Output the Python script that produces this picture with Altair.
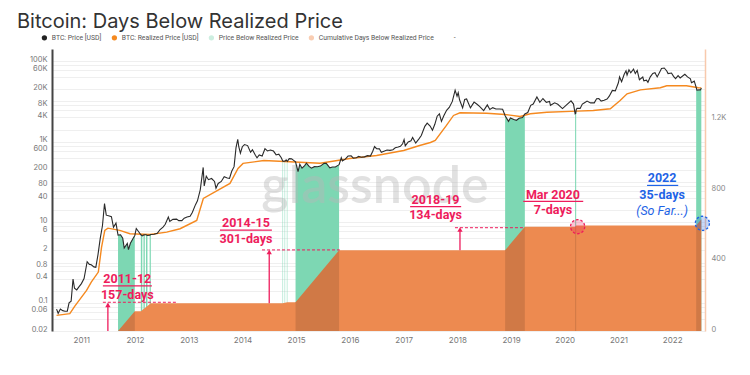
import json
import altair as alt
import pandas as pd

TITLE = "Bitcoin: Days Below Realized Price"

# ---------------- data ----------------
price_dates = [
    "2010-07-17", "2010-07-28", "2010-08-12", "2010-08-28", "2010-09-12", "2010-09-28",
    "2010-10-10", "2010-10-24", "2010-11-06", "2010-11-16", "2010-12-01", "2010-12-16",
    "2011-01-02", "2011-01-20", "2011-02-10", "2011-02-25", "2011-03-10", "2011-03-28",
    "2011-04-10", "2011-04-25", "2011-05-10", "2011-05-25", "2011-06-08", "2011-06-20",
    "2011-07-05", "2011-07-25", "2011-08-08", "2011-08-25", "2011-09-08", "2011-09-25",
    "2011-10-10", "2011-10-20", "2011-11-10", "2011-11-18", "2011-12-01", "2011-12-20",
    "2011-12-31", "2012-01-10", "2012-01-25", "2012-02-10", "2012-02-20", "2012-02-28",
    "2012-03-08", "2012-03-16", "2012-03-26", "2012-04-10", "2012-04-18", "2012-05-10",
    "2012-06-01", "2012-06-20", "2012-07-10", "2012-07-25", "2012-08-15", "2012-08-25",
    "2012-09-15", "2012-10-10", "2012-10-25", "2012-11-15", "2012-12-01", "2012-12-20",
    "2013-01-10", "2013-01-25", "2013-02-15", "2013-03-01", "2013-03-20", "2013-04-09",
    "2013-04-16", "2013-04-30", "2013-05-15", "2013-06-05", "2013-06-25", "2013-07-05",
    "2013-07-20", "2013-08-10", "2013-08-30", "2013-09-20", "2013-10-05", "2013-10-20",
    "2013-11-05", "2013-11-18", "2013-11-30", "2013-12-07", "2013-12-18", "2013-12-31",
    "2014-01-15", "2014-02-05", "2014-02-25", "2014-03-10", "2014-03-30", "2014-04-10",
    "2014-04-25", "2014-05-15", "2014-06-03", "2014-06-20", "2014-07-10", "2014-07-31",
    "2014-08-18", "2014-09-05", "2014-09-22", "2014-10-01", "2014-10-04", "2014-10-15",
    "2014-10-18", "2014-10-25", "2014-10-30", "2014-11-02", "2014-11-15", "2014-12-01",
    "2014-12-15", "2014-12-28", "2015-01-14", "2015-01-26", "2015-02-10", "2015-02-28",
    "2015-03-12", "2015-03-30", "2015-04-15", "2015-05-05", "2015-05-25", "2015-06-15",
    "2015-07-10", "2015-07-25", "2015-08-18", "2015-09-05", "2015-09-25", "2015-10-15",
    "2015-10-20", "2015-11-04", "2015-11-12", "2015-12-01", "2015-12-20", "2016-01-10",
    "2016-01-25", "2016-02-15", "2016-03-01", "2016-03-20", "2016-04-10", "2016-04-30",
    "2016-05-20", "2016-06-05", "2016-06-17", "2016-07-01", "2016-07-20", "2016-08-02",
    "2016-08-20", "2016-09-10", "2016-09-30", "2016-10-20", "2016-11-05", "2016-11-25",
    "2016-12-10", "2016-12-25", "2017-01-04", "2017-01-12", "2017-02-01", "2017-02-20",
    "2017-03-03", "2017-03-24", "2017-04-15", "2017-05-01", "2017-05-25", "2017-06-10",
    "2017-06-30", "2017-07-16", "2017-08-01", "2017-08-17", "2017-09-01", "2017-09-15",
    "2017-10-01", "2017-10-20", "2017-11-07", "2017-11-28", "2017-12-17", "2017-12-30",
    "2018-01-07", "2018-01-16", "2018-02-06", "2018-02-20", "2018-03-05", "2018-03-31",
    "2018-04-25", "2018-05-15", "2018-06-01", "2018-06-29", "2018-07-24", "2018-08-10",
    "2018-08-30", "2018-09-20", "2018-10-15", "2018-11-05", "2018-11-22", "2018-12-15",
    "2018-12-28", "2019-01-20", "2019-02-07", "2019-02-25", "2019-03-20", "2019-04-05",
    "2019-04-25", "2019-05-15", "2019-06-01", "2019-06-26", "2019-07-16", "2019-08-06",
    "2019-08-29", "2019-09-20", "2019-09-26", "2019-10-25", "2019-11-15", "2019-12-17",
    "2020-01-10", "2020-02-13", "2020-03-01", "2020-03-12", "2020-03-16", "2020-03-19",
    "2020-03-25", "2020-04-15", "2020-04-30", "2020-05-15", "2020-06-01", "2020-06-25",
    "2020-07-20", "2020-08-05", "2020-08-20", "2020-09-05", "2020-09-25", "2020-10-15",
    "2020-10-30", "2020-11-20", "2020-12-10", "2020-12-31", "2021-01-08", "2021-01-22",
    "2021-02-08", "2021-02-21", "2021-02-28", "2021-03-13", "2021-03-25", "2021-04-13",
    "2021-04-25", "2021-05-08", "2021-05-23", "2021-06-15", "2021-06-22", "2021-07-10",
    "2021-07-20", "2021-08-05", "2021-08-22", "2021-09-06", "2021-09-21", "2021-10-10",
    "2021-10-20", "2021-11-08", "2021-11-25", "2021-12-04", "2021-12-27", "2022-01-10",
    "2022-01-24", "2022-02-10", "2022-02-24", "2022-03-28", "2022-04-15", "2022-05-05",
    "2022-05-12", "2022-05-31", "2022-06-13", "2022-06-18", "2022-07-01", "2022-07-12",
    "2022-07-18",
]
price_usd = [
    0.07, 0.055, 0.07, 0.064, 0.062, 0.062,
    0.10, 0.11, 0.39, 0.23, 0.21, 0.25,
    0.30, 0.40, 1.05, 0.90, 0.88, 0.78,
    0.76, 1.6, 4.0, 8.2, 29.0, 15.0,
    14.5, 13.8, 7.5, 9.5, 4.8, 4.9,
    4.0, 2.3, 3.0, 2.1, 3.0, 4.0,
    4.7, 7.0, 5.9, 4.9, 4.6, 4.8,
    4.9, 4.9, 4.7, 4.8, 4.95, 5.05,
    5.3, 6.6, 7.6, 8.9, 13.5, 10.5,
    11.8, 12.0, 11.0, 11.0, 12.6, 13.5,
    14.0, 17.5, 27, 34, 64, 230,
    80, 139, 114, 122, 103, 70,
    92, 103, 135, 126, 123, 185,
    240, 700, 1150, 750, 520, 750,
    850, 800, 550, 630, 460, 400,
    470, 440, 670, 590, 620, 585,
    470, 490, 400, 335, 325, 332,
    330, 355, 335, 325, 380, 375,
    345, 315, 180, 275, 220, 254,
    295, 245, 220, 240, 238, 248,
    290, 290, 225, 235, 235, 262,
    270, 400, 335, 370, 440, 445,
    390, 400, 432, 410, 420, 450,
    440, 580, 760, 670, 665, 545,
    580, 620, 608, 630, 705, 735,
    770, 890, 1130, 790, 990, 1050,
    1270, 930, 1180, 1420, 2400, 2900,
    2450, 1920, 2700, 4300, 4900, 3200,
    4400, 6000, 7100, 10000, 19000, 13500,
    16500, 11000, 6900, 11200, 11500, 6900,
    9600, 8500, 7500, 5900, 8200, 6300,
    7000, 6500, 6500, 6400, 4400, 3200,
    3900, 3550, 3400, 3800, 4000, 4900,
    5300, 8000, 8600, 12900, 9500, 11800,
    9500, 10000, 8000, 9200, 8500, 6650,
    8000, 10300, 8600, 4900, 5000, 6200,
    6700, 6700, 8600, 9300, 10200, 9200,
    9200, 11700, 11800, 10200, 10700, 11500,
    13500, 18700, 18300, 29000, 40500, 30800,
    46500, 57500, 45200, 61200, 51500, 63500,
    49000, 58800, 34600, 40300, 32500, 33800,
    29800, 40800, 49300, 51700, 40600, 54900,
    65900, 67500, 57100, 49000, 50600, 41800,
    36600, 43500, 38300, 47200, 40500, 36500,
    29000, 31800, 22400, 19000, 19300, 19300,
    21500,
]

realized_dates = [
    "2010-07-17", "2010-10-15", "2010-11-17", "2011-02-06", "2011-03-10", "2011-04-27",
    "2011-05-19", "2011-06-10", "2011-07-01", "2011-09-20", "2011-11-28", "2012-04-12",
    "2012-08-04", "2012-11-03", "2013-02-24", "2013-04-10", "2013-10-08", "2013-12-02",
    "2014-01-05", "2014-05-27", "2015-06-13", "2016-01-01", "2016-07-01", "2017-01-01",
    "2017-04-20", "2017-07-02", "2017-08-04", "2017-10-19", "2017-12-06", "2018-01-19",
    "2018-07-20", "2018-11-21", "2019-03-04", "2019-05-12", "2019-09-02", "2020-03-25",
    "2020-07-13", "2020-11-06", "2021-01-12", "2021-02-28", "2021-05-30", "2021-10-12",
    "2021-11-25", "2022-04-08", "2022-06-28", "2022-07-18",
]
realized_usd = [
    0.049, 0.054, 0.082, 0.203, 0.327, 0.58,
    2.41, 6.27, 7.15, 6.27, 5.19, 4.99,
    5.69, 6.91, 11.1, 39, 92, 217,
    289, 342, 293, 384, 455, 606,
    806, 957, 1073, 2530, 4480, 5220,
    5100, 4740, 4230, 4930, 5400, 5730,
    5960, 6560, 10500, 15400, 19400, 21800,
    24400, 24400, 21800, 21700,
]

below_start = ["2011-09-08", "2012-02-10", "2012-02-28", "2012-03-16", "2012-04-10",
               "2014-10-01", "2014-10-15", "2014-10-30", "2014-12-28", "2018-11-22",
               "2020-03-12", "2022-06-13"]
below_end = ["2011-12-31", "2012-02-20", "2012-03-08", "2012-03-26", "2012-04-18",
             "2014-10-04", "2014-10-18", "2014-11-02", "2015-10-20", "2019-04-05",
             "2020-03-19", "2022-07-18"]

cum_dates = ["2011-09-08", "2011-12-31", "2012-02-10", "2012-04-18", "2014-10-01",
             "2014-11-02", "2014-12-28", "2015-10-20", "2018-11-22", "2019-04-05",
             "2020-03-12", "2020-03-19", "2022-06-13", "2022-07-18"]
cum_days = [0, 112, 112, 157, 157, 163, 163, 458, 458, 592, 592, 599, 599, 634]

left_grid_ticks = [0.02, 0.04, 0.06, 0.08, 0.1, 0.2, 0.4, 0.6, 0.8, 1, 2, 4, 6, 8, 10, 20, 40,
                   60, 80, 100, 200, 400, 600, 800, 1000, 2000, 4000, 6000, 8000, 10000,
                   20000, 40000, 60000, 80000, 100000]
left_tick_labels = [0.02, 0.06, 0.1, 0.4, 0.8, 2, 6, 10, 40, 80, 200, 600, 1000, 4000,
                    8000, 20000, 60000, 100000]
right_ticks = [0, 400, 800, 1200]

legend_names = ["BTC: Price [USD]", "BTC: Realized Price [USD]", "Price Below Realized Price",
                "Cumulative Days Below Realized Price", "-"]
legend_colors = ["#222222", "#f5891f", "#cdeee0", "#f9cdb2", "#ffffff"]

# annotations (anchored in date / cumulative-days space)
ann_text = ["2011-12", "157-days", "2014-15", "301-days", "2018-19", "134-days",
            "Mar 2020", "7-days", "2022", "35-days"]
ann_dates = ["2011-11-10", "2011-11-10", "2014-01-25", "2014-01-25", "2017-08-06",
             "2017-08-06", "2019-10-13", "2019-10-13", "2021-10-24", "2021-10-24"]
ann_values = [297, 204, 615, 524, 745, 660, 774, 688, 870, 772]
ann_colors = ["#ee1c5c"] * 8 + ["#1e63e6"] * 2

note_text = ["(So Far...)"]
note_dates = ["2021-10-24"]
note_values = [680]
note_colors = ["#1e63e6"]

und_start = ["2011-05-28", "2013-08-01", "2017-02-14", "2019-03-25", "2021-07-14"]
und_end = ["2012-04-25", "2014-07-20", "2018-01-27", "2020-05-06", "2022-02-11"]
und_values = [256, 572, 706, 735, 826]
und_colors = ["#ee1c5c"] * 4 + ["#1e63e6"]

dash_start = ["2011-05-28", "2014-05-14", "2017-12-16"]
dash_end = ["2012-10-19", "2015-10-25", "2019-04-06"]
dash_values = [163, 460, 586]

arrow_dates = ["2011-07-01", "2014-07-02", "2018-01-19"]
arrow_base = [0, 157, 458]
arrow_tip = [148, 448, 576]

circ_dates = ["2020-03-29", "2022-07-25"]
circ_values = [592, 611]
circ_colors = ["#ee1c5c", "#1e63e6"]

wm_text = ["glassnode"]
wm_dates = ["2016-06-20"]
wm_values = [815]

# ---------------- frames ----------------
price_df = pd.DataFrame({"date": pd.to_datetime(price_dates), "price": price_usd})
real_df = pd.DataFrame({"date": pd.to_datetime(realized_dates), "price": realized_usd})
cum_df = pd.DataFrame({"date": pd.to_datetime(cum_dates), "days": cum_days})

green_parts, dark_parts = [], []
for i, (s, e) in enumerate(zip(below_start, below_end)):
    s, e = pd.Timestamp(s), pd.Timestamp(e)
    green_parts.append(price_df[(price_df.date >= s) & (price_df.date <= e)].assign(seg=i))
    dark_parts.append(cum_df[(cum_df.date >= s) & (cum_df.date <= e)].assign(seg=i))
green_df = pd.concat(green_parts)
dark_df = pd.concat(dark_parts)

ann_df = pd.DataFrame({"date": pd.to_datetime(ann_dates), "value": ann_values,
                       "text": ann_text, "color": ann_colors})
note_df = pd.DataFrame({"date": pd.to_datetime(note_dates), "value": note_values,
                        "text": note_text, "color": note_colors})
und_df = pd.DataFrame({"start": pd.to_datetime(und_start), "end": pd.to_datetime(und_end),
                       "value": und_values, "color": und_colors})
dash_df = pd.DataFrame({"start": pd.to_datetime(dash_start), "end": pd.to_datetime(dash_end),
                        "value": dash_values})
arrow_df = pd.DataFrame({"date": pd.to_datetime(arrow_dates), "base": arrow_base,
                         "tip": arrow_tip})
circ_df = pd.DataFrame({"date": pd.to_datetime(circ_dates), "value": circ_values,
                        "color": circ_colors})
wm_df = pd.DataFrame({"date": pd.to_datetime(wm_dates), "value": wm_values, "text": wm_text})
legend_df = pd.DataFrame({"series": legend_names})

# ---------------- scales & axes ----------------
x_scale = alt.Scale(domain=[alt.DateTime(year=2010, month=6, date=16),
                            alt.DateTime(year=2022, month=8, date=12)])
x_axis = alt.Axis(format="%Y", tickCount={"interval": "year", "step": 1}, grid=False,
                  domain=False, ticks=False, labelFontSize=8, labelColor="#777777",
                  labelPadding=5, title=None, labelFlush=False)
price_scale = alt.Scale(type="log", domain=[0.02, 200000])
cum_scale = alt.Scale(domain=[0, 1600])

label_expr = ("indexof(" + json.dumps(left_tick_labels) + ", datum.value) >= 0 ? "
              "(datum.value >= 1000 ? (datum.value / 1000) + 'K' : '' + datum.value) : ''")
left_axis = alt.Axis(values=left_grid_ticks, labelExpr=label_expr, grid=True,
                     gridColor="#efefef", gridWidth=1, domainColor="#444444", domainWidth=2,
                     ticks=False, labelFontSize=7.5, labelColor="#777777", labelPadding=5,
                     labelBaseline="alphabetic", labelOverlap=False, title=None)
right_axis = alt.Axis(orient="right", values=right_ticks,
                      labelExpr="datum.value >= 1000 ? (datum.value / 1000) + 'K' : '' + datum.value",
                      grid=False, domainColor="#f8c9ad", domainWidth=1.5, ticks=False,
                      labelFontSize=7.5, labelColor="#888888", labelPadding=6,
                      labelBaseline="alphabetic", title=None)


def X(field="date"):
    return alt.X(f"{field}:T", scale=x_scale, axis=x_axis, title=None)


# ---------------- layers ----------------
green = alt.Chart(green_df).mark_area(color="#7dd7b3", opacity=1).encode(
    x=X(), y=alt.Y("price:Q", scale=price_scale, axis=None, stack=None),
    y2=alt.datum(0.02), detail="seg:N")

cum_area = alt.Chart(cum_df).mark_area(color="#ed8a50", opacity=1).encode(
    x=X(), y=alt.Y("days:Q", scale=cum_scale, axis=right_axis, stack=None))

dark = alt.Chart(dark_df).mark_area(color="#000000", opacity=0.12).encode(
    x=X(), y=alt.Y("days:Q", scale=cum_scale, axis=None, stack=None), detail="seg:N")

watermark = alt.Chart(wm_df).mark_text(font="Lato", fontSize=52, fontWeight=600,
                                       color="#b8b8b8", opacity=0.42).encode(
    x=X(), y=alt.Y("value:Q", scale=cum_scale, axis=None), text="text:N")

realized_line = alt.Chart(real_df).mark_line(color="#f5891f", strokeWidth=1.4).encode(
    x=X(), y=alt.Y("price:Q", scale=price_scale, axis=None))

price_line = alt.Chart(price_df).mark_line(color="#2a2a2a", strokeWidth=1.1).encode(
    x=X(), y=alt.Y("price:Q", scale=price_scale, axis=left_axis))

dashes = alt.Chart(dash_df).mark_rule(color="#ee1c5c", strokeWidth=1, strokeDash=[3, 2]).encode(
    x=X("start"), x2="end:T", y=alt.Y("value:Q", scale=cum_scale, axis=None))

arrows = alt.Chart(arrow_df).mark_rule(color="#ee1c5c", strokeWidth=1.3).encode(
    x=X(), y=alt.Y("base:Q", scale=cum_scale, axis=None), y2="tip:Q")

heads = alt.Chart(arrow_df).mark_point(shape="triangle-up", filled=True, size=28,
                                       color="#ee1c5c", opacity=1).encode(
    x=X(), y=alt.Y("tip:Q", scale=cum_scale, axis=None))

underlines = alt.Chart(und_df).mark_rule(strokeWidth=1.2).encode(
    x=X("start"), x2="end:T", y=alt.Y("value:Q", scale=cum_scale, axis=None),
    stroke=alt.Stroke("color:N", scale=None))

texts = alt.Chart(ann_df).mark_text(font="Roboto", fontSize=12.5, fontWeight="bold",
                                    align="center", baseline="middle").encode(
    x=X(), y=alt.Y("value:Q", scale=cum_scale, axis=None), text="text:N",
    fill=alt.Fill("color:N", scale=None))

notes = alt.Chart(note_df).mark_text(font="Roboto", fontSize=12.5, fontStyle="italic",
                                     align="center", baseline="middle").encode(
    x=X(), y=alt.Y("value:Q", scale=cum_scale, axis=None), text="text:N",
    fill=alt.Fill("color:N", scale=None))

circles = alt.Chart(circ_df).mark_point(shape="circle", size=200, fillOpacity=0.25,
                                        strokeWidth=1.3, strokeDash=[2.5, 2],
                                        opacity=1).encode(
    x=X(), y=alt.Y("value:Q", scale=cum_scale, axis=None),
    fill=alt.Fill("color:N", scale=None), stroke=alt.Stroke("color:N", scale=None))

legend_layer = alt.Chart(legend_df).mark_point(filled=True, opacity=0).encode(
    color=alt.Color("series:N", scale=alt.Scale(domain=legend_names, range=legend_colors),
                    legend=alt.Legend(orient="none", legendX=-11, legendY=-15,
                                      direction="horizontal", columns=5, title=None,
                                      symbolType="circle", symbolSize=28,
                                      symbolOpacity=1, symbolStrokeWidth=0,
                                      labelFont="Roboto", labelFontSize=6.8,
                                      labelColor="#555555", labelOffset=4,
                                      columnPadding=9, labelLimit=200)))

chart = alt.layer(
    green, cum_area, dark, watermark, realized_line, price_line,
    dashes, arrows, heads, underlines, texts, notes, circles, legend_layer,
).resolve_scale(y="independent").properties(
    width=653, height=282,
    autosize=alt.AutoSizeParams(type="none"),
    padding={"left": 44, "top": 41, "right": 37, "bottom": 36},
    title=alt.TitleParams(TITLE, anchor="start", fontSize=20, fontWeight="normal",
                          color="#333333", offset=2, dx=-35, frame="group"),
).configure(font="Inter").configure_view(stroke=None)

chart.save("out.html", embed_options={"renderer": "svg", "actions": False})
